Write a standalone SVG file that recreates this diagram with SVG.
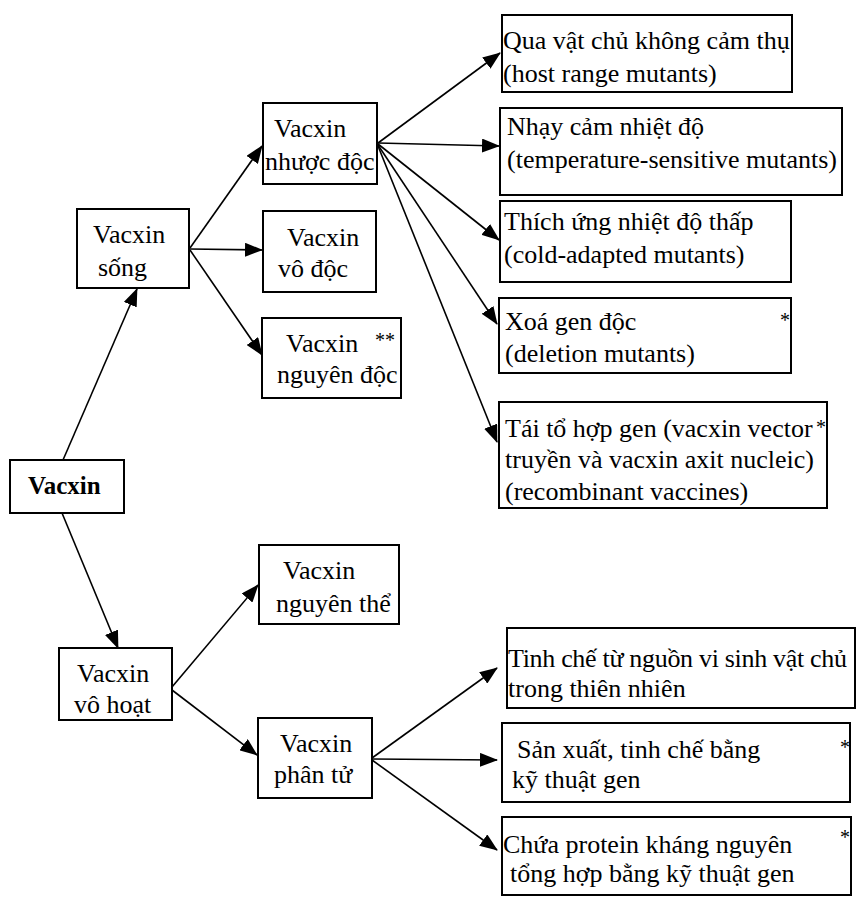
<svg xmlns="http://www.w3.org/2000/svg" width="856" height="899" viewBox="0 0 856 899">
<style>
.box{fill:#fff;stroke:#000;stroke-width:2}
text{font-family:"Liberation Serif","Times New Roman",serif;font-size:26px;fill:#000}
.b{font-weight:bold;font-size:25px}
.st{font-size:20px}
.c line{stroke:#000;stroke-width:1.6;marker-end:url(#ah)}
</style>
<defs>
<marker id="ah" markerUnits="userSpaceOnUse" markerWidth="18" markerHeight="14" viewBox="0 0 18 14" refX="17" refY="7" orient="auto">
<path d="M0,0 L18,7 L0,14 Z" fill="#000"/>
</marker>
</defs>
<rect width="856" height="899" fill="#fff"/>
<g class="c" id="connectors">
<line x1="63" y1="460" x2="137" y2="289"/>
<line x1="62" y1="513" x2="118" y2="648"/>
<line x1="190" y1="248" x2="262" y2="146"/>
<line x1="190" y1="249" x2="262" y2="250"/>
<line x1="190" y1="250" x2="262" y2="355"/>
<line x1="378" y1="143" x2="500" y2="53"/>
<line x1="378" y1="143" x2="499" y2="146"/>
<line x1="378" y1="144" x2="499" y2="240"/>
<line x1="378" y1="145" x2="497" y2="324"/>
<line x1="378" y1="146" x2="497" y2="442"/>
<line x1="172" y1="687" x2="258" y2="585"/>
<line x1="172" y1="690" x2="257" y2="755"/>
<line x1="372" y1="758" x2="497" y2="668"/>
<line x1="372" y1="759" x2="497" y2="760"/>
<line x1="372" y1="760" x2="497" y2="850"/>
</g>
<g id="vacxin"><rect class="box" x="10" y="460" width="114" height="53"/><text class="b" x="28" y="494">Vacxin</text></g>
<g id="song"><rect class="box" x="77" y="209" width="112" height="79"/><text x="93" y="243">Vacxin</text><text x="98" y="276">sống</text></g>
<g id="nhuocdoc"><rect class="box" x="263" y="103" width="114" height="81"/><text x="274" y="137">Vacxin</text><text x="265" y="170">nhược độc</text></g>
<g id="vodoc"><rect class="box" x="263" y="211" width="113" height="81"/><text x="287" y="246">Vacxin</text><text x="278" y="277">vô độc</text></g>
<g id="nguyendoc"><rect class="box" x="262" y="318" width="139" height="80"/><text x="286" y="352">Vacxin</text><text x="277" y="383">nguyên độc</text><text class="st" x="375" y="347">**</text></g>
<g id="vohoat"><rect class="box" x="59" y="648" width="113" height="72"/><text x="77" y="682">Vacxin</text><text x="74" y="713">vô hoạt</text></g>
<g id="nguyenthe"><rect class="box" x="259" y="545" width="140" height="79"/><text x="283" y="579">Vacxin</text><text x="276" y="612">nguyên thể</text></g>
<g id="phantu"><rect class="box" x="258" y="718" width="114" height="80"/><text x="280" y="752">Vacxin</text><text x="274" y="783">phân tử</text></g>
<g id="qua"><rect class="box" x="502" y="15" width="290" height="77"/><text x="503" y="49">Qua vật chủ không cảm thụ</text><text x="503" y="82">(host range mutants)</text></g>
<g id="nhay"><rect class="box" x="500" y="108" width="342" height="87"/><text x="507" y="135">Nhạy cảm nhiệt độ</text><text x="507" y="168">(temperature-sensitive mutants)</text></g>
<g id="thich"><rect class="box" x="500" y="201" width="291" height="81"/><text x="504" y="230">Thích ứng nhiệt độ thấp</text><text x="504" y="263">(cold-adapted mutants)</text></g>
<g id="xoa"><rect class="box" x="499" y="298" width="292" height="75"/><text x="505" y="330">Xoá gen độc</text><text x="505" y="362">(deletion mutants)</text><text class="st" x="780" y="327">*</text></g>
<g id="tai"><rect class="box" x="499" y="402" width="328" height="106"/><text x="505" y="437">Tái tổ hợp gen (vacxin vector</text><text x="505" y="468">truyền và vacxin axit nucleic)</text><text x="505" y="500">(recombinant vaccines)</text><text class="st" x="816" y="434">*</text></g>
<g id="tinhche"><rect class="box" x="507" y="628" width="348" height="80"/><text x="508" y="667" textLength="339">Tinh chế từ nguồn vi sinh vật chủ</text><text x="508" y="697">trong thiên nhiên</text></g>
<g id="sanxuat"><rect class="box" x="502" y="723" width="348" height="79"/><text x="517" y="758">Sản xuất, tinh chế bằng</text><text x="512" y="788">kỹ thuật gen</text><text class="st" x="840" y="754">*</text></g>
<g id="chua"><rect class="box" x="502" y="817" width="349" height="78"/><text x="503" y="853">Chứa protein kháng nguyên</text><text x="510" y="882">tổng hợp bằng kỹ thuật gen</text><text class="st" x="840" y="844">*</text></g>
</svg>
